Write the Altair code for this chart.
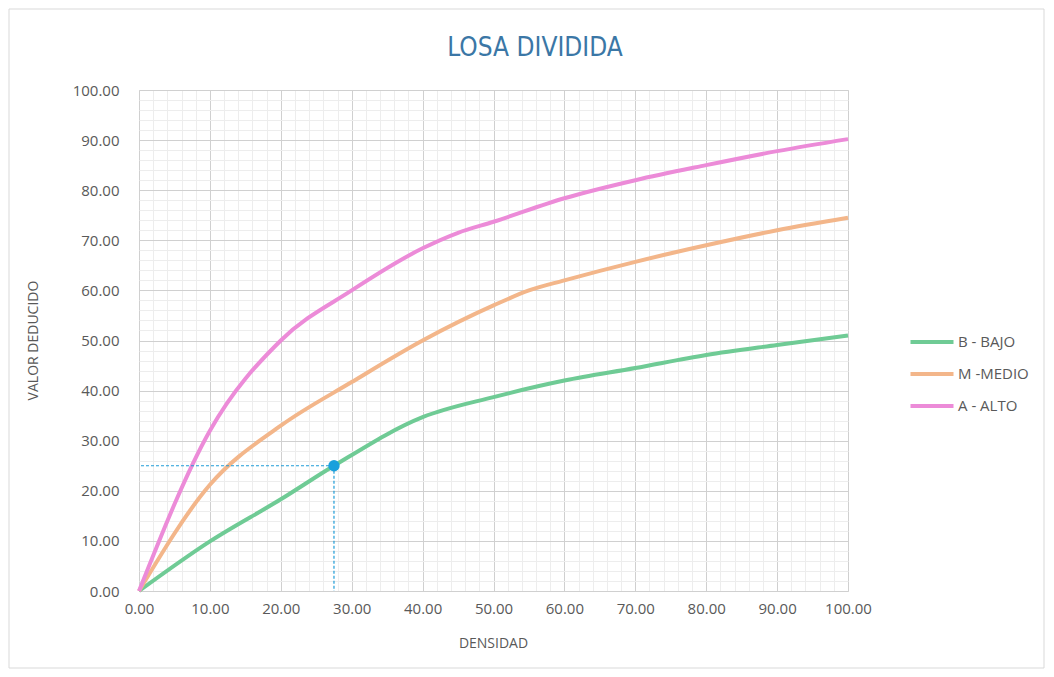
import altair as alt
import pandas as pd

# ---- data ----
series_names = ["B - BAJO", "M -MEDIO", "A - ALTO"]
series_colors = ["#6FCB95", "#F3B68A", "#EC8BD8"]

bajo_x = [0, 10, 20, 27.5, 40, 50, 60, 70, 80, 90, 100]
bajo_y = [0, 9.9, 18.3, 25, 34.7, 38.7, 42, 44.5, 47.1, 49.1, 51]

medio_x = [0, 10, 20, 30, 40, 50, 55, 60, 70, 80, 90, 100]
medio_y = [0, 21.2, 33, 41.7, 50, 57, 60, 62, 65.7, 69, 72, 74.5]

alto_x = [0, 10, 20, 30, 40, 45, 50, 60, 70, 80, 90, 100]
alto_y = [0, 32, 50, 60, 68.4, 71.5, 73.7, 78.4, 82, 85, 87.8, 90.2]

point_x = [27.5]
point_y = [25]

grid_values = list(range(0, 101, 2))

title_text = ["LOSA DIVIDIDA"]

rows = []
for name, xs, ys in [(series_names[0], bajo_x, bajo_y),
                     (series_names[1], medio_x, medio_y),
                     (series_names[2], alto_x, alto_y)]:
    for xv, yv in zip(xs, ys):
        rows.append({"serie": name, "DENSIDAD": xv, "VALOR": yv})
df = pd.DataFrame(rows)
pt = pd.DataFrame({"x": point_x, "y": point_y, "zero": [0]})
tdf = pd.DataFrame({"t": title_text})

FONT = "Open Sans"
LABEL_COLOR = "#595959"

def make_axis(title, is_y):
    common = dict(
        values=grid_values,
        labelExpr="datum.value % 10 === 0 ? format(datum.value, '.2f') : ''",
        labelOverlap=False,
        labelFlush=False,
        ticks=False,
        domain=False,
        gridColor=alt.condition("datum.value % 10 === 0", alt.value("#D0D0D0"), alt.value("#EDEDED")),
        gridWidth=1,
        labelFont=FONT,
        labelFontSize=15,
        labelColor=LABEL_COLOR,
        title=title,
        titleFont=FONT,
        titleFontSize=14,
        titleFontWeight="normal",
        titleColor=LABEL_COLOR,
        titleAlign="center",
        titleBaseline="middle",
    )
    if is_y:
        return alt.Axis(labelPadding=20, titleX=-106, titleY=250, titleAngle=-90, **common)
    return alt.Axis(labelPadding=10, titleX=354, titleY=52, **common)

XAXIS = make_axis("DENSIDAD", False)
YAXIS = make_axis("VALOR DEDUCIDO", True)
xscale = alt.Scale(domain=[0, 100], nice=False)
yscale = alt.Scale(domain=[0, 100], nice=False)

lines = alt.Chart(df).mark_line(strokeWidth=4, interpolate="monotone").encode(
    x=alt.X("DENSIDAD:Q", scale=xscale, axis=XAXIS),
    y=alt.Y("VALOR:Q", scale=yscale, axis=YAXIS),
    color=alt.Color(
        "serie:N",
        scale=alt.Scale(domain=series_names, range=series_colors),
        legend=alt.Legend(
            title=None,
            orient="none",
            legendX=769,
            legendY=228,
            symbolType="stroke",
            symbolStrokeWidth=4,
            symbolSize=1850,
            labelFont=FONT,
            labelFontSize=15,
            labelColor=LABEL_COLOR,
            labelOffset=2,
            rowPadding=0,
        ),
    ),
    order=alt.Order("DENSIDAD:Q"),
)

vrule = alt.Chart(pt).mark_rule(color="#1E9CD7", strokeWidth=1.2, strokeDash=[3, 2]).encode(
    x=alt.X("x:Q", scale=xscale, axis=XAXIS), y=alt.Y("y:Q", scale=yscale, axis=YAXIS), y2="zero:Q"
)
hrule = alt.Chart(pt).mark_rule(color="#1E9CD7", strokeWidth=1.2, strokeDash=[3, 2]).encode(
    y=alt.Y("y:Q", scale=yscale, axis=YAXIS), x=alt.X("x:Q", scale=xscale, axis=XAXIS), x2="zero:Q"
)
dot = alt.Chart(pt).mark_circle(size=130, color="#1AA0DC", opacity=1).encode(
    x=alt.X("x:Q", scale=xscale, axis=XAXIS), y=alt.Y("y:Q", scale=yscale, axis=YAXIS)
)

border = alt.Chart(pt).mark_rect(fillOpacity=0, stroke="#D9D9D9", strokeWidth=1).encode(
    x=alt.value(-130), x2=alt.value(905), y=alt.value(-81), y2=alt.value(578)
)

title = alt.Chart(tdf).mark_text(
    font="'Liberation Sans Narrow', 'DejaVu Sans Condensed', sans-serif",
    fontSize=26,
    color="#3B77A6",
    align="center",
    baseline="alphabetic",
).encode(text="t:N", x=alt.value(396), y=alt.value(-34))

chart = alt.layer(lines, vrule, hrule, dot, border, title).properties(
    width=709,
    height=501,
    padding={"left": 131, "top": 82, "right": 198, "bottom": 78},
    autosize=alt.AutoSizeParams(type="none"),
).configure_view(stroke=None).configure(background="white")

chart.save("out.html", embed_options={"renderer": "svg", "actions": False})
